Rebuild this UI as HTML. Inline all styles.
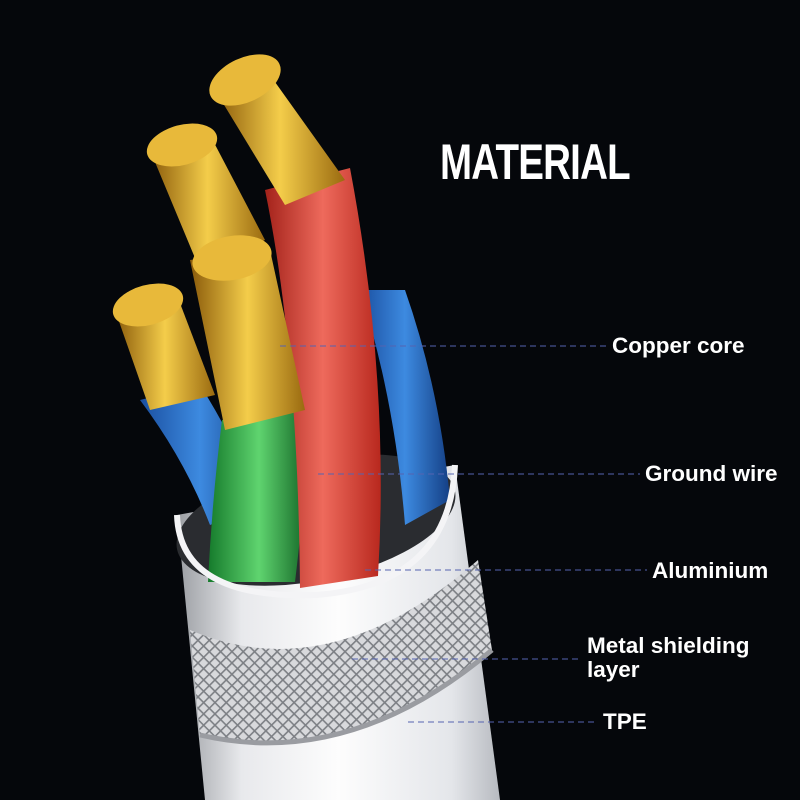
<!DOCTYPE html>
<html><head><style>
html,body{margin:0;padding:0;background:#05070b;}
.w{position:relative;width:800px;height:800px;overflow:hidden;background:#05070b;font-family:"Liberation Sans",sans-serif;}
.t{position:absolute;color:#fff;font-weight:bold;font-size:22.5px;}
</style></head><body><div class="w">
<svg width="800" height="800" viewBox="0 0 800 800" style="position:absolute;left:0;top:0">
<defs>
<linearGradient id="wh" x1="0" x2="1" y1="0" y2="0">
<stop offset="0" stop-color="#9a9da2"/><stop offset="0.2" stop-color="#e8e9ec"/><stop offset="0.5" stop-color="#fdfdfd"/><stop offset="0.85" stop-color="#e4e6ea"/><stop offset="1" stop-color="#b7bac0"/></linearGradient>
<linearGradient id="rd" x1="0" x2="1"><stop offset="0" stop-color="#a3221a"/><stop offset="0.5" stop-color="#ee6a5c"/><stop offset="1" stop-color="#b8281e"/></linearGradient>
<linearGradient id="gr" x1="0" x2="1"><stop offset="0" stop-color="#157a2b"/><stop offset="0.5" stop-color="#5fd46f"/><stop offset="1" stop-color="#0f5f22"/></linearGradient>
<linearGradient id="bl" x1="0" x2="1"><stop offset="0" stop-color="#1a4fa0"/><stop offset="0.5" stop-color="#3d8ae0"/><stop offset="1" stop-color="#143f85"/></linearGradient>
<linearGradient id="gd" x1="0" x2="1"><stop offset="0" stop-color="#8a5a0a"/><stop offset="0.5" stop-color="#f4cd4a"/><stop offset="1" stop-color="#9a6a10"/></linearGradient>
<pattern id="kn" width="8" height="8" patternUnits="userSpaceOnUse" patternTransform="rotate(45)">
<rect width="8" height="8" fill="#d8d9dc"/><rect width="8" height="1.6" fill="#7d8085"/><rect width="1.6" height="8" fill="#7d8085"/></pattern>
</defs>
<path d="M177 515 L205 800 L500 800 L455 465 Z" fill="url(#wh)"/>
<path d="M190 630 Q330 690 478 560 L492 650 Q350 770 200 735 Z" fill="url(#kn)"/>
<path d="M200 735 Q350 770 492 650" fill="none" stroke="#9a9ca1" stroke-width="5"/>
<ellipse cx="316" cy="520" rx="142" ry="60" transform="rotate(-12 316 520)" fill="#2a2c30"/>
<path d="M140 400 Q185 460 210 525 L260 505 Q235 440 200 385 Z" fill="url(#bl)"/>
<path d="M360 290 Q395 400 405 525 L450 500 Q440 390 405 290 Z" fill="url(#bl)"/>
<path d="M222 420 Q212 500 208 582 L295 582 Q305 500 310 405 Z" fill="url(#gr)"/>
<path d="M265 190 Q298 350 300 588 L378 576 Q390 380 350 168 Z" fill="url(#rd)"/>
<path d="M215 90 L265 68 L345 180 L285 205 Z" fill="url(#gd)"/>
<ellipse cx="245" cy="80" rx="38" ry="22" transform="rotate(-25 245 80)" fill="#e8b93a"/>
<path d="M150 150 L210 135 L265 240 L200 270 Z" fill="url(#gd)"/>
<ellipse cx="182" cy="145" rx="36" ry="20" transform="rotate(-15 182 145)" fill="#e8b93a"/>
<path d="M115 310 L175 290 L215 395 L150 410 Z" fill="url(#gd)"/>
<ellipse cx="148" cy="305" rx="36" ry="20" transform="rotate(-15 148 305)" fill="#e8b93a"/>
<path d="M190 260 L270 250 L305 410 L225 430 Z" fill="url(#gd)"/>
<ellipse cx="232" cy="258" rx="40" ry="22" transform="rotate(-10 232 258)" fill="#e8b93a"/>
<path d="M177 515 Q180 600 316 595 Q450 585 455 465" fill="none" stroke="#f4f4f6" stroke-width="6"/>
<g stroke="#5563b0" stroke-width="1" stroke-dasharray="6,4" fill="none">
<line x1="280" y1="346" x2="607" y2="346"/>
<line x1="318" y1="474" x2="640" y2="474"/>
<line x1="365" y1="570" x2="647" y2="570"/>
<line x1="352" y1="659" x2="580" y2="659"/>
<line x1="408" y1="722" x2="598" y2="722"/>
</g>
</svg>
<div class="t" style="left:440px;top:133px;font-size:50px;letter-spacing:-1px;transform:scaleX(0.77);transform-origin:left;">MATERIAL</div>
<div class="t" style="left:612px;top:333px">Copper core</div>
<div class="t" style="left:645px;top:461px">Ground wire</div>
<div class="t" style="left:652px;top:558px">Aluminium</div>
<div class="t" style="left:587px;top:634px;line-height:24px">Metal shielding<br>layer</div>
<div class="t" style="left:603px;top:709px">TPE</div>
</div></body></html>
